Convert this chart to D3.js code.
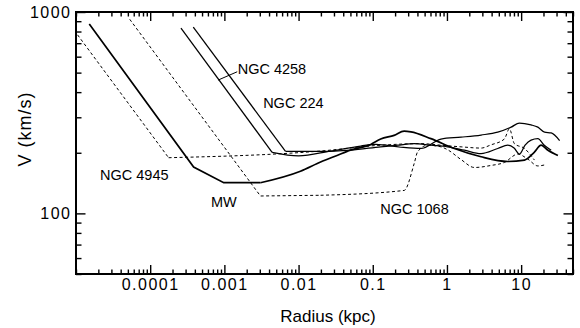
<!DOCTYPE html>
<html>
<head>
<meta charset="utf-8">
<script src="https://cdn.jsdelivr.net/npm/d3@7"></script>
<style>
  body { margin: 0; background: #fff; }
  svg { display: block; font-family: "Liberation Sans", Arial, Helvetica, sans-serif; }
</style>
</head>
<body>
<svg id="chart" width="580" height="328"></svg>
<script>

// rotation curves: radius in kpc, velocity in km/s
const n4945R = [1.05e-5, 1.77e-4, 0.0198, 0.128, 0.446, 0.83, 1.55, 2.88, 3.93, 5.94, 6.95, 8.1, 11.1, 15.1];
const n4945V = [770, 189, 204, 218, 222, 218, 214, 211, 219, 234, 263, 222, 210, 184];

const mwR = [1.51e-5, 3.85e-4, 9.8e-4, 3.06e-3, 0.0106, 0.0198, 0.033, 0.05, 0.094, 0.128, 0.194, 0.265, 0.327, 0.608, 1.26, 2.88, 6.61, 11.1, 15.0, 18.6, 23, 31.3];
const mwV = [871, 170, 142, 142, 162, 180, 194, 206, 220, 234, 244, 256, 254, 235, 210, 191, 181, 184, 201, 218, 206, 194];

const n1068R = [5.3e-5, 3.06e-3, 0.0198, 0.265, 0.362, 0.402, 0.548, 0.83, 1.02, 1.55, 2.34, 3.93, 5.94, 9.02, 12.3, 16.8, 20.7];
const n1068V = [920, 122, 123, 130, 177, 202, 218, 214, 207, 185, 169, 173, 179, 197, 186, 172, 174];

const n4258R = [2.6e-4, 4.4e-3, 0.01, 0.027, 0.0689, 0.110, 0.239, 0.446, 0.83, 1.55, 2.88, 4.84, 7.33, 9.48, 13.6, 16.8, 20.7, 25.4, 33];
const n4258V = [832, 201, 193, 204, 216, 220, 213, 210, 234, 239, 245, 253, 268, 281, 275, 268, 253, 251, 230];

const n224R = [3.81e-4, 6.67e-3, 0.0198, 0.05, 0.128, 0.216, 0.362, 0.608, 1.02, 1.71, 2.88, 4.84, 6.61, 8.04, 9.48, 11.3, 13.6, 16.8, 20.5, 25.4];
const n224V = [841, 203, 203, 206, 214, 218, 222, 218, 214, 206, 198, 210, 218, 211, 197, 218, 231, 235, 218, 206];

// tick labels
const xMajor = [1e-4, 1e-3, 0.01, 0.1, 1, 10];
const xLabels = ["0.0001", "0.001", "0.01", "0.1", "1", "10"];
const yMajor = [100, 1000];
const yLabels = ["100", "1000"];

// galaxy names and where their labels sit (data coords)
const names = ["NGC 4258", "NGC 224", "NGC 4945", "MW", "NGC 1068"];
const nameR = [1.51e-3, 3.33e-3, 2.11e-5, 6.61e-4, 0.126];
const nameV = [495, 332, 147, 107, 99.7];


const svg = d3.select("#chart");

const x = d3.scaleLog().domain([1e-5, 50]).range([76, 573]);
const y = d3.scaleLog().domain([50, 1000]).range([274, 12]);

const xMinor = x.ticks().filter(d => !xMajor.some(m => Math.abs(m - d) / m < 1e-6));
const yMinor = y.ticks().filter(d => !yMajor.includes(d));

function styleAxis(g) {
    g.select(".domain").remove();
    g.selectAll("line").attr("stroke-width", 1.4);
    g.attr("font-family", null).attr("font-size", 16);
    g.selectAll("text").style("letter-spacing", "1.5px");
}

// bottom
svg.append("g").attr("transform", "translate(0,274)")
    .call(d3.axisBottom(x).tickValues(xMinor).tickSize(-4.5).tickFormat(""))
    .call(styleAxis);
svg.append("g").attr("transform", "translate(0,274)")
    .call(d3.axisBottom(x).tickValues(xMajor).tickSize(-9).tickPadding(5)
        .tickFormat((d, i) => xLabels[i]))
    .call(styleAxis);

// top
svg.append("g").attr("transform", "translate(0,12)")
    .call(d3.axisTop(x).tickValues(xMinor).tickSize(-4.5).tickFormat(""))
    .call(styleAxis);
svg.append("g").attr("transform", "translate(0,12)")
    .call(d3.axisTop(x).tickValues(xMajor).tickSize(-9).tickFormat(""))
    .call(styleAxis);

// left
svg.append("g").attr("transform", "translate(76,0)")
    .call(d3.axisLeft(y).tickValues(yMinor).tickSize(-5.5).tickFormat(""))
    .call(styleAxis);
svg.append("g").attr("transform", "translate(76,0)")
    .call(d3.axisLeft(y).tickValues(yMajor).tickSize(-9.5).tickPadding(4.5)
        .tickFormat((d, i) => yLabels[i]))
    .call(styleAxis);

// right
svg.append("g").attr("transform", "translate(573,0)")
    .call(d3.axisRight(y).tickValues(yMinor).tickSize(-5.5).tickFormat(""))
    .call(styleAxis);
svg.append("g").attr("transform", "translate(573,0)")
    .call(d3.axisRight(y).tickValues(yMajor).tickSize(-9.5).tickFormat(""))
    .call(styleAxis);

// frame
svg.append("rect")
    .attr("x", x.range()[0]).attr("y", y.range()[1])
    .attr("width", x.range()[1] - x.range()[0])
    .attr("height", y.range()[0] - y.range()[1])
    .attr("fill", "none").attr("stroke", "#000").attr("stroke-width", 2);

// curves: the first `sharp` points are joined straight (Keplerian part), the rest smoothly
const series = [
    { r: n4945R, v: n4945V, dashed: true, width: 1, sharp: 2 },
    { r: mwR, v: mwV, dashed: false, width: 1.7, sharp: 4 },
    { r: n1068R, v: n1068V, dashed: true, width: 1, sharp: 3 },
    { r: n4258R, v: n4258V, dashed: false, width: 1.25, sharp: 2 },
    { r: n224R, v: n224V, dashed: false, width: 1.25, sharp: 2 }
];

const straight = d3.line().x(d => x(d[0])).y(d => y(d[1]));
const smooth = d3.line().x(d => x(d[0])).y(d => y(d[1])).curve(d3.curveMonotoneX);

series.forEach(s => {
    const pts = s.r.map((r, i) => [r, s.v[i]]);
    const head = pts.slice(0, s.sharp);
    const tail = pts.slice(s.sharp - 1);
    [straight(head), smooth(tail)].forEach(dPath => {
        svg.append("path")
            .attr("d", dPath)
            .attr("fill", "none")
            .attr("stroke", "#000")
            .attr("stroke-width", s.width)
            .attr("stroke-dasharray", s.dashed ? "3,2.5" : null);
    });
});

// galaxy labels
svg.append("g").selectAll("text")
    .data(names)
    .enter()
    .append("text")
      .attr("x", (d, i) => x(nameR[i]))
      .attr("y", (d, i) => y(nameV[i]))
      .attr("font-size", 14.5)
      .text(d => d);

// leader from the NGC 4258 label to its curve
svg.append("line")
    .attr("x1", x(8.22e-4)).attr("y1", y(459))
    .attr("x2", x(1.49e-3)).attr("y2", y(505))
    .attr("stroke", "#000").attr("stroke-width", 1);

// axis titles
svg.append("text")
    .attr("x", 328)
    .attr("y", 322)
    .attr("text-anchor", "middle")
    .attr("font-size", 17)
    .text("Radius (kpc)");

svg.append("text")
    .attr("transform", "translate(31,129) rotate(-90)")
    .attr("text-anchor", "middle")
    .attr("font-size", 18)
    .style("letter-spacing", "1px")
    .text("V (km/s)");

</script>
</body>
</html>
